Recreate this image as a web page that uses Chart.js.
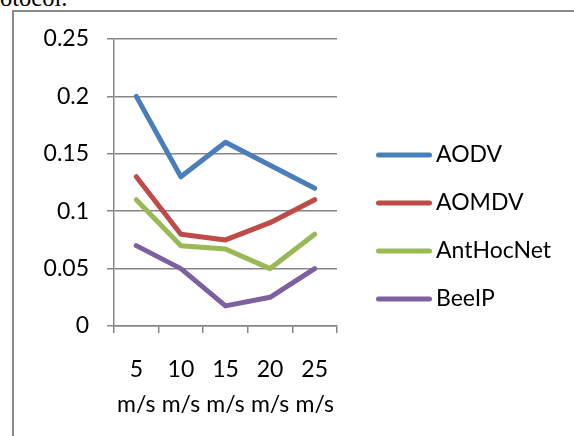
<!DOCTYPE html>
<html>
<head>
<meta charset="utf-8">
<script src="https://cdn.jsdelivr.net/npm/chart.js@4.4.1/dist/chart.umd.min.js"></script>
<style>
  html, body { margin: 0; padding: 0; background: #fff; overflow: hidden; }
  #note { position: absolute; left: 0; top: -14px; font: 24.5px/24.5px "Liberation Serif", serif; color: #000; }
  #frame { position: absolute; left: 12px; top: 10px; width: 600px; height: 460px;
           border-left: 2px solid #8a8a8a; border-top: 2px solid #8a8a8a; }
  #chart { position: absolute; left: 0; top: 0; }
</style>
</head>
<body>
<div id="note">otocol.</div>
<div id="frame"></div>
<canvas id="chart" width="574" height="436"></canvas>
<script>
const speeds = [["5", "m/s"], ["10", "m/s"], ["15", "m/s"], ["20", "m/s"], ["25", "m/s"]]
const aodv = [0.2, 0.13, 0.16, 0.14, 0.12]
const aomdv = [0.13, 0.08, 0.075, 0.09, 0.11]
const antHocNet = [0.11, 0.07, 0.067, 0.05, 0.08]
const beeIP = [0.07, 0.05, 0.0175, 0.025, 0.05]

const gridColor = "#868686"
const font = "Lato"

function series(label, data, color) {
  return {
    label: label,
    data: data,
    borderColor: color,
    backgroundColor: color,
    borderWidth: 5,
    borderCapStyle: "round",
    borderJoinStyle: "round",
    pointRadius: 0,
    tension: 0
  }
}

// legend on the right, drawn from the library's own legend items
const sideLegend = {
  id: "sideLegend",
  afterDraw(chart) {
    const ctx = chart.ctx
    const items = Chart.defaults.plugins.legend.labels.generateLabels(chart)
    items.forEach((item, i) => {
      const y = 155 + i * 48
      ctx.save()
      ctx.strokeStyle = item.strokeStyle
      ctx.lineWidth = 5
      ctx.lineCap = "round"
      ctx.beginPath()
      ctx.moveTo(378.5, y)
      ctx.lineTo(429.5, y)
      ctx.stroke()
      ctx.fillStyle = "#000"
      ctx.font = "23px " + font
      ctx.textBaseline = "middle"
      ctx.fillText(item.text, 436, y)
      ctx.restore()
    })
  }
}

new Chart(document.getElementById("chart"), {
  type: "line",
  data: {
    labels: speeds,
    datasets: [
      series("AODV", aodv, "#4a7ebb"),
      series("AOMDV", aomdv, "#be4b48"),
      series("AntHocNet", antHocNet, "#98b954"),
      series("BeeIP", beeIP, "#7d60a0")
    ]
  },
  plugins: [sideLegend],
  options: {
    responsive: false,
    animation: false,
    devicePixelRatio: 1,
    layout: { padding: { top: 39, bottom: 21, left: 0, right: 237 } },
    scales: {
      x: {
        offset: true,
        grid: { offset: true, drawOnChartArea: false, drawTicks: true, tickLength: 7, color: gridColor, lineWidth: 1.5 },
        border: { color: gridColor, width: 1.5 },
        ticks: { color: "#000", padding: 19, maxRotation: 0, autoSkip: false, font: { family: font, size: 23, lineHeight: 1.52 } },
        afterFit: s => { s.height = 89 }
      },
      y: {
        min: 0,
        max: 0.25,
        grid: { color: gridColor, lineWidth: 1.5, tickLength: 7 },
        border: { color: gridColor, width: 1.5 },
        ticks: {
          stepSize: 0.05,
          color: "#000",
          padding: 18,
          font: { family: font, size: 23 },
          callback: v => String(Number(v.toFixed(3)))
        },
        afterFit: s => { s.width = 114 }
      }
    },
    plugins: {
      legend: { display: false },
      tooltip: { enabled: false }
    }
  }
})
</script>
</body>
</html>
